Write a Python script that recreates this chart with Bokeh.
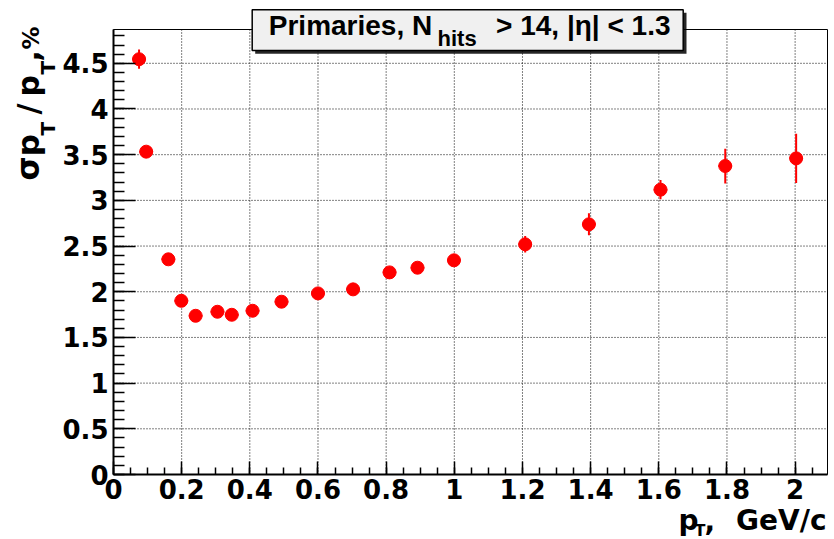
import numpy as np
from bokeh.plotting import figure
from bokeh.models import ColumnDataSource, FixedTicker, Label, BoxAnnotation, Range1d
from bokeh.embed import file_html
from bokeh.resources import INLINE

# ---------------- data ----------------
pt = [0.075, 0.096, 0.161, 0.199, 0.241, 0.305, 0.347, 0.408, 0.493, 0.600,
      0.703, 0.810, 0.892, 0.999, 1.208, 1.395, 1.605, 1.795, 2.003]
resolution = [4.545, 3.533, 2.355, 1.901, 1.737, 1.781, 1.748, 1.792, 1.891, 1.982,
              2.026, 2.212, 2.263, 2.344, 2.519, 2.738, 3.117, 3.376, 3.460]
resolution_err = [0.105, 0.03, 0.03, 0.025, 0.025, 0.025, 0.025, 0.03, 0.03, 0.03,
                  0.035, 0.04, 0.045, 0.05, 0.09, 0.12, 0.105, 0.19, 0.27]
pt_err = [0.02, 0.02, 0.02, 0.02, 0.02, 0.02, 0.02, 0.02, 0.02, 0.02,
          0.02, 0.02, 0.02, 0.02, 0.02, 0.02, 0.02, 0.02, 0.02]

x_ticks = [0, 0.2, 0.4, 0.6, 0.8, 1.0, 1.2, 1.4, 1.6, 1.8, 2.0]
x_tick_labels = ["0", "0.2", "0.4", "0.6", "0.8", "1", "1.2", "1.4", "1.6", "1.8", "2"]
y_ticks = [0, 0.5, 1.0, 1.5, 2.0, 2.5, 3.0, 3.5, 4.0, 4.5]
y_tick_labels = ["0", "0.5", "1", "1.5", "2", "2.5", "3", "3.5", "4", "4.5"]

X_MAX = 2.095
Y_MAX = 4.87

x_minor = [round(v, 2) for v in np.arange(0, X_MAX, 0.05)]
y_minor = [round(v, 1) for v in np.arange(0, Y_MAX, 0.1)]

# ---------------- layout: page pixels of the plotting box ----------------
W, H = 834, 539
FRAME_L, FRAME_R, FRAME_T, FRAME_B = 113, 827, 29, 474
PPX = (FRAME_R - FRAME_L) / X_MAX
PPY = (FRAME_B - FRAME_T) / Y_MAX


def dx(px):
    return (px - FRAME_L) / PPX


def dy(py):
    return (FRAME_B - py) / PPY


src = ColumnDataSource(dict(
    x=pt, y=resolution,
    ylo=[v - e for v, e in zip(resolution, resolution_err)],
    yhi=[v + e for v, e in zip(resolution, resolution_err)],
    xlo=[v - e for v, e in zip(pt, pt_err)],
    xhi=[v + e for v, e in zip(pt, pt_err)],
))

p = figure(width=W, height=H, title=None,
           x_range=Range1d(dx(0), dx(W)), y_range=Range1d(dy(H), dy(0)),
           output_backend="svg", toolbar_location=None,
           background_fill_color="white", border_fill_color="white")
p.min_border = 0
p.min_border_left = 0
p.min_border_right = 0
p.min_border_top = 0
p.min_border_bottom = 0
p.outline_line_color = None
p.xgrid.visible = False
p.ygrid.visible = False

TICK_FONT = "DejaVu Sans"

xa = p.xaxis[0]
xa.fixed_location = 0
xa.bounds = (0, X_MAX)
xa.ticker = FixedTicker(ticks=x_ticks, minor_ticks=x_minor)
xa.major_label_overrides = dict(zip(x_ticks, x_tick_labels))
xa.major_tick_in = 13
xa.major_tick_out = 0
xa.minor_tick_in = 7
xa.minor_tick_out = 0
xa.axis_line_width = 2
xa.major_tick_line_width = 1.5
xa.minor_tick_line_width = 1.5
xa.major_label_text_font = TICK_FONT
xa.major_label_text_font_style = "bold"
xa.major_label_text_font_size = "26px"
xa.major_label_text_color = "black"
xa.major_label_standoff = 4

ya = p.yaxis[0]
ya.fixed_location = 0
ya.bounds = (0, Y_MAX)
ya.ticker = FixedTicker(ticks=y_ticks, minor_ticks=y_minor)
ya.major_label_overrides = dict(zip(y_ticks, y_tick_labels))
ya.major_tick_in = 22
ya.major_tick_out = 0
ya.minor_tick_in = 11
ya.minor_tick_out = 0
ya.axis_line_width = 2
ya.major_tick_line_width = 1.5
ya.minor_tick_line_width = 1.5
ya.major_label_text_font = TICK_FONT
ya.major_label_text_font_style = "bold"
ya.major_label_text_font_size = "26px"
ya.major_label_text_color = "black"
ya.major_label_standoff = 5

# ---------------- dotted grid inside the plotting box ----------------
gx = x_ticks[1:]
p.segment(x0=gx, y0=[0] * len(gx), x1=gx, y1=[Y_MAX] * len(gx),
          line_color="black", line_dash="1 2", line_width=1, line_alpha=1.0)
gy = y_ticks[1:]
p.segment(x0=[0] * len(gy), y0=gy, x1=[X_MAX] * len(gy), y1=gy,
          line_color="black", line_dash="1 2", line_width=1, line_alpha=1.0)

# ---------------- data marks ----------------
p.segment(x0="x", y0="ylo", x1="x", y1="yhi", source=src, line_color="red", line_width=2)
p.segment(x0="xlo", y0="y", x1="xhi", y1="y", source=src, line_color="red", line_width=2)
p.scatter(x="x", y="y", source=src, marker="circle", size=13,
          fill_color="red", line_color="red")

# ---------------- frame outline ----------------
p.add_layout(BoxAnnotation(left=0, right=X_MAX, bottom=0, top=Y_MAX,
                           fill_color=None, fill_alpha=0,
                           line_color="black", line_width=1, line_alpha=1.0))

# ---------------- title box ----------------
p.add_layout(BoxAnnotation(left=dx(254.7), right=dx(686), top=dy(12.3), bottom=dy(53.3),
                           fill_color="black", fill_alpha=0.85, line_color=None))
p.add_layout(BoxAnnotation(left=dx(251.7), right=dx(682.7), top=dy(9.3), bottom=dy(50),
                           fill_color="#f0f0f0", fill_alpha=1.0,
                           line_color="black", line_width=1.5, line_alpha=1.0))

TF = "Liberation Sans"
AF = "DejaVu Sans"
SHIFT = 0.3  # baseline correction, as a fraction of the font size


def lab(px, py, text, size, font, align="left", angle=0):
    """Place a bold label whose baseline starts at page pixel (px, py)."""
    corr = SHIFT * size
    if angle:
        px = px - corr
    else:
        py = py - corr
    p.add_layout(Label(x=dx(px), y=dy(py), text=text, text_font=font,
                       text_font_style="bold", text_font_size=f"{size}px",
                       text_color="black", text_align=align,
                       text_baseline="alphabetic", angle=angle, angle_units="deg"))


lab(268.3, 33.3, "Primaries, N", 28, TF)
lab(437, 45, "hits", 22, TF)
lab(670, 33.3, "> 14, |η| < 1.3", 28, TF, align="right")

# ---------------- x axis title ----------------
lab(678, 528.5, "p", 28, AF)
lab(694, 535, "T", 16, AF)
lab(704, 528.5, ",", 28, AF)
lab(826, 528.5, "GeV/c", 28, AF, align="right")

# ---------------- y axis title (rotated) ----------------
lab(37, 180, "σp", 31, AF, angle=90)
lab(53, 135, "T", 20, AF, angle=90)
lab(37, 114, "/", 30, AF, angle=90)
lab(37, 96, "p", 30, AF, angle=90)
lab(53, 74, "T", 20, AF, angle=90)
lab(37, 61, ",", 30, AF, angle=90)
lab(37, 49, "%", 23, AF, angle=90)

open("out.html", "w").write(file_html(p, INLINE))
